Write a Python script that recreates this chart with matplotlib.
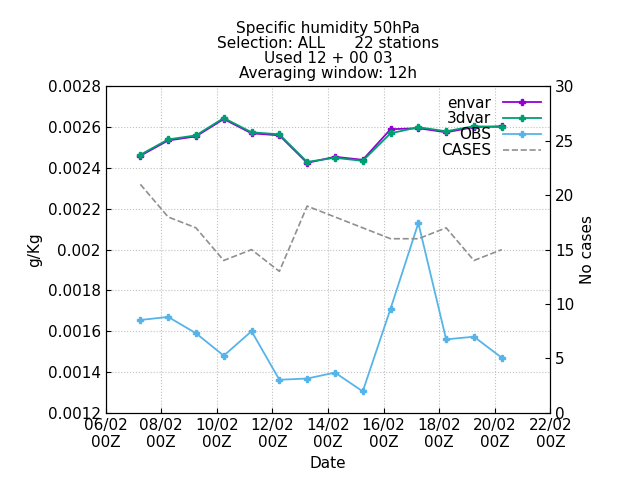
import matplotlib
matplotlib.use("Agg")
import matplotlib.pyplot as plt

days = [d + 0.25 for d in range(7, 21)]
envar = [0.00246, 0.002535, 0.002555, 0.00264, 0.00257, 0.00256, 0.002425, 0.002455, 0.00244, 0.00259, 0.002595, 0.002575, 0.0026, 0.002605]
dvar3 = [0.002465, 0.00254, 0.00256, 0.002645, 0.002575, 0.002565, 0.00243, 0.00245, 0.002435, 0.00257, 0.0026, 0.00258, 0.002605, 0.0026]
obs = [0.001655, 0.00167, 0.00159, 0.00148, 0.0016, 0.001362, 0.001368, 0.001397, 0.001305, 0.00171, 0.00213, 0.00156, 0.001573, 0.00147]
cases = [21, 18, 17, 14, 15, 13, 19, 18, 17, 16, 16, 17, 14, 15]
xticks = list(range(6, 23, 2))
xlabels = ["%02d/02\n00Z" % d for d in xticks]

fig, ax = plt.subplots(figsize=(6.4, 4.8), dpi=100)
fig.subplots_adjust(left=0.165, right=0.86, top=0.82, bottom=0.14)
ax2 = ax.twinx()
ax.plot(days, envar, color='#9400d3', marker='P', ms=5, lw=1.3, label='envar')
ax.plot(days, dvar3, color='#009e73', marker='P', ms=5, lw=1.3, label='3dvar')
ax.plot(days, obs, color='#56b4e9', marker='P', ms=5, lw=1.3, label='OBS')
ax2.plot(days, cases, color='#909090', ls='--', lw=1.2, label='CASES')
ax.plot([], [], color='#909090', ls='--', lw=1.2, label='CASES')

ax.set_xlim(6, 22)
ax.set_ylim(0.0012, 0.0028)
ax2.set_ylim(0, 30)
ax.set_xticks(xticks)
ax.set_xticklabels(xlabels)
ax.set_yticks([0.0012 + 0.0002 * i for i in range(9)])
ax.set_yticklabels(['0.0012', '0.0014', '0.0016', '0.0018', '0.002', '0.0022', '0.0024', '0.0026', '0.0028'])
ax2.set_yticks(range(0, 31, 5))
ax.grid(True, color='#c0c0c0', ls=':', lw=0.8)
for a in (ax, ax2):
    a.tick_params(direction='in', labelsize=11)
ax.set_xlabel('Date', fontsize=11)
ax.set_ylabel('g/Kg', fontsize=11)
ax2.set_ylabel('No cases', fontsize=11)
ax.set_title('Specific humidity 50hPa\nSelection: ALL      22 stations\nUsed 12 + 00 03\nAveraging window: 12h', fontsize=11, linespacing=1.0)
leg = ax.legend(loc='upper right', frameon=False, fontsize=11, markerfirst=False, handlelength=2.5, borderaxespad=0.2, labelspacing=0.05)
for t in leg.get_texts():
    t.set_ha('right')
fig.savefig('out.png')
